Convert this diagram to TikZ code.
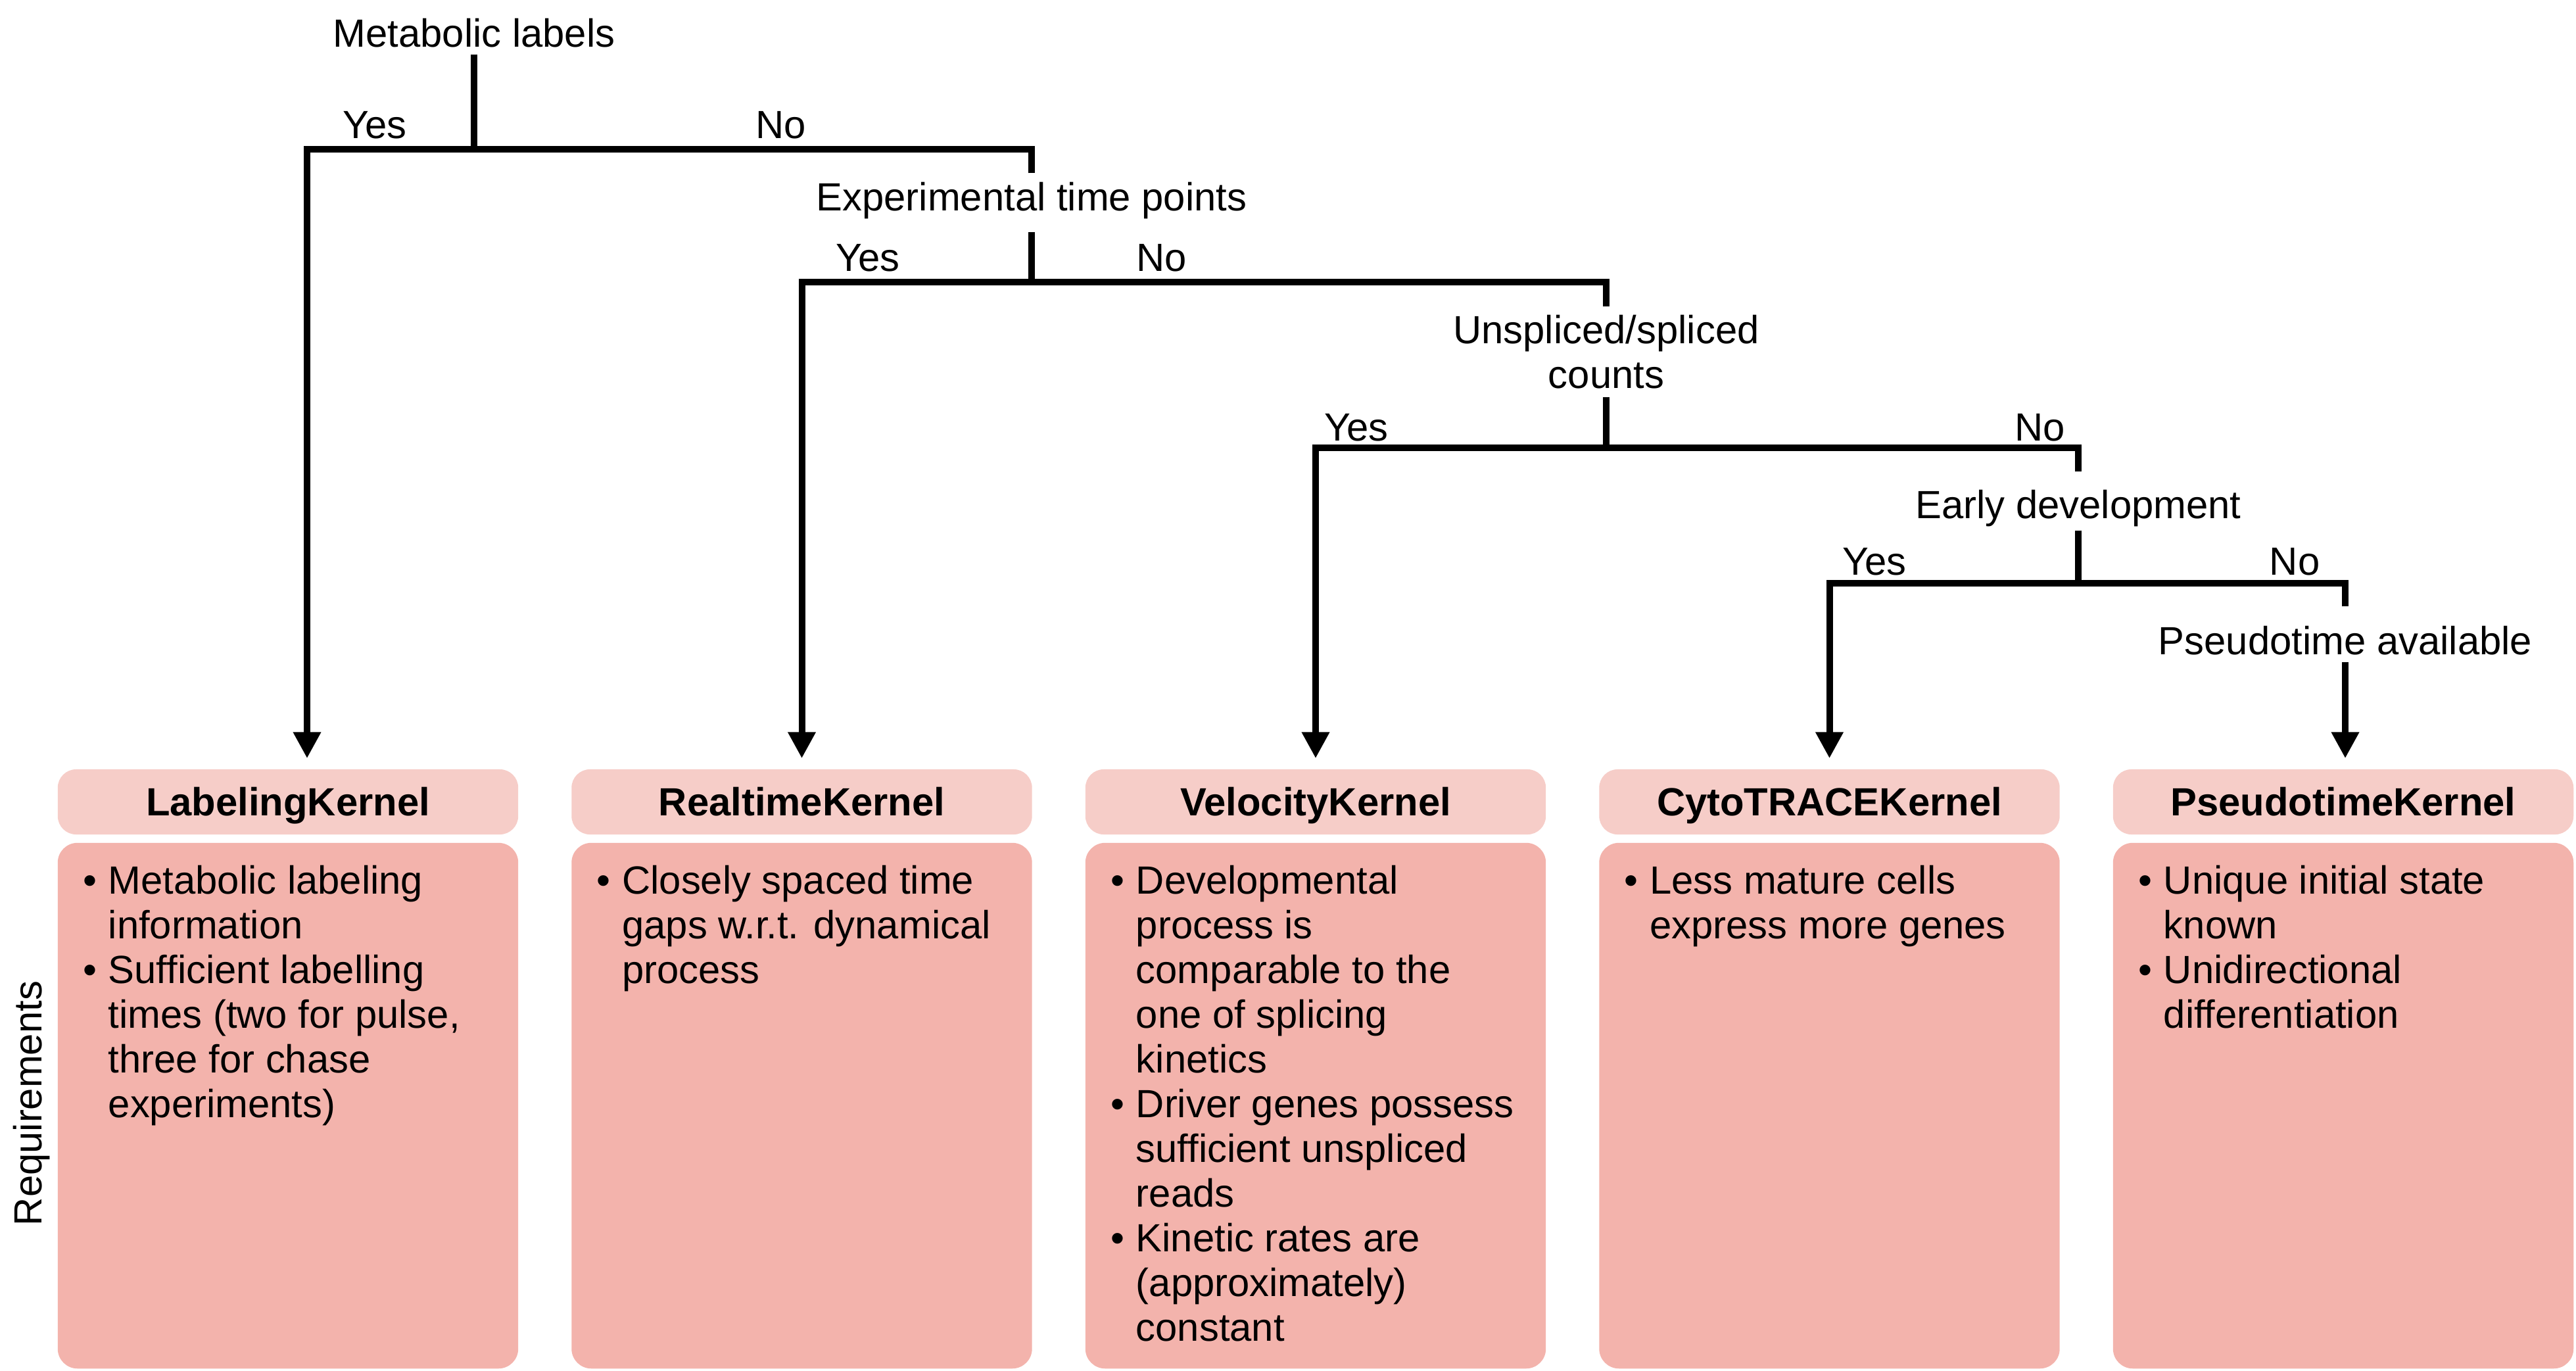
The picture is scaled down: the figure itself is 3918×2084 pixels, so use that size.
\documentclass[tikz,border=0pt]{standalone}
\usepackage{fontspec}
\setmainfont{Liberation Sans}
\usetikzlibrary{arrows.meta}
\definecolor{headpink}{HTML}{F6CDC8}
\definecolor{bodypink}{HTML}{F3B3AC}
\newcommand{\bul}{\textbullet}

\begin{document}
\begin{tikzpicture}[x=0.01cm, y=-0.01cm,
    every node/.style={font=\fontsize{17}{19.35}\selectfont, inner sep=0pt},
    question/.style={align=center},
    oneline/.style={text height=12.2pt, text depth=0pt},
    answer/.style={anchor=base},
    kernel/.style={rectangle, rounded corners=0.28cm, fill=headpink, minimum width=7cm, minimum height=0.99cm,
        font=\fontsize{17}{19.35}\selectfont\bfseries, text height=12.2pt, text depth=0pt},
    reqbox/.style={rectangle, rounded corners=0.3cm, fill=bodypink, minimum width=7cm, minimum height=7.99cm},
    reqtext/.style={anchor=base west, xshift=0.385cm, yshift=-0.78cm},
    branch/.style={line width=0.1cm},
    pick/.style={branch, -{Triangle[width=0.4cm, length=0.4cm]}, shorten >=0.16cm}]
    \useasboundingbox (0,0) rectangle (3918,2084);
    % Decision questions
        \node[question, oneline, anchor=base] (q1) at (721,71) {Metabolic labels};
        \node[question, oneline, anchor=base] (q2) at (1569,320) {Experimental time points};
        \node[question, anchor=north] (q3) at (2443,478) {Unspliced/spliced\\counts};
        \node[question, oneline, anchor=base] (q4) at (3161,788) {Early development};
        \node[question, oneline, anchor=base] (q5) at (3567,995) {Pseudotime available};
    % Junctions on the bars
        \coordinate (j1) at (721,227);
        \coordinate (j2) at (1569,429);
        \coordinate (j3) at (2443,681);
        \coordinate (j4) at (3161,887);
    % Yes / No answers
        \node[answer] (y1) at (570,210) {Yes};
        \node[answer] (n1) at (1188,210) {No};
        \node[answer] (y2) at (1320,412) {Yes};
        \node[answer] (n2) at (1767,412) {No};
        \node[answer] (y3) at (2063,670) {Yes};
        \node[answer] (n3) at (3103,670) {No};
        \node[answer] (y4) at (2851,874) {Yes};
        \node[answer] (n4) at (3490,874) {No};
    % Kernel headers
        \node[kernel] (k1) at (438,1219.5) {LabelingKernel};
        \node[kernel] (k2) at (1219.5,1219.5) {RealtimeKernel};
        \node[kernel] (k3) at (2001,1219.5) {VelocityKernel};
        \node[kernel] (k4) at (2782.5,1219.5) {CytoTRACEKernel};
        \node[kernel] (k5) at (3564,1219.5) {PseudotimeKernel};
    % Requirement boxes
        \node[reqbox] (r1) at (438,1681.5) {};
        \node[reqbox] (r2) at (1219.5,1681.5) {};
        \node[reqbox] (r3) at (2001,1681.5) {};
        \node[reqbox] (r4) at (2782.5,1681.5) {};
        \node[reqbox] (r5) at (3564,1681.5) {};
        \node[rotate=90, anchor=base] (req) at (63,1678) {Requirements};
    % Requirement texts
        \node[reqtext] (t1) at (r1.north west) {\begin{tabular}[t]{@{}l@{\hspace{5pt}}l@{}}
            \bul & Metabolic labeling\\
                 & information\\
            \bul & Sufficient labelling\\
                 & times (two for pulse,\\
                 & three for chase\\
                 & experiments)
            \end{tabular}};
        \node[reqtext] (t2) at (r2.north west) {\begin{tabular}[t]{@{}l@{\hspace{5pt}}l@{}}
            \bul & Closely spaced time\\
                 & gaps w.r.t. dynamical\\
                 & process
            \end{tabular}};
        \node[reqtext] (t3) at (r3.north west) {\begin{tabular}[t]{@{}l@{\hspace{5pt}}l@{}}
            \bul & Developmental\\
                 & process is\\
                 & comparable to the\\
                 & one of splicing\\
                 & kinetics\\
            \bul & Driver genes possess\\
                 & sufficient unspliced\\
                 & reads\\
            \bul & Kinetic rates are\\
                 & (approximately)\\
                 & constant
            \end{tabular}};
        \node[reqtext] (t4) at (r4.north west) {\begin{tabular}[t]{@{}l@{\hspace{5pt}}l@{}}
            \bul & Less mature cells\\
                 & express more genes
            \end{tabular}};
        \node[reqtext] (t5) at (r5.north west) {\begin{tabular}[t]{@{}l@{\hspace{5pt}}l@{}}
            \bul & Unique initial state\\
                 & known\\
            \bul & Unidirectional\\
                 & differentiation
            \end{tabular}};
    % Metabolic labels
        \draw[branch, shorten <=0.11cm] (q1.south) -- (j1);
        \draw[pick, shorten <=0.13cm] (q2.north) |- (j1) -| ([xshift=0.29cm]k1.north);
    % Experimental time points
        \draw[branch, shorten <=0.32cm] (q2.south) -- (j2);
        \draw[pick, shorten <=0.12cm] (q3.north) |- (j2) -| (k2.north);
    % Unspliced/spliced counts
        \draw[branch, shorten <=0.13cm] (q3.south) -- (j3);
        \draw[pick, shorten <=0.27cm] (q4.north) |- (j3) -| (k3.north);
    % Early development
        \draw[branch, shorten <=0.18cm] (q4.south) -- (j4);
        \draw[pick, shorten <=0.29cm] (q5.north) |- (j4) -| (k4.north);
    % Pseudotime available
        \draw[pick, shorten <=0.11cm] (q5.south) -- (q5.south |- k5.north);
\end{tikzpicture}
\end{document}
